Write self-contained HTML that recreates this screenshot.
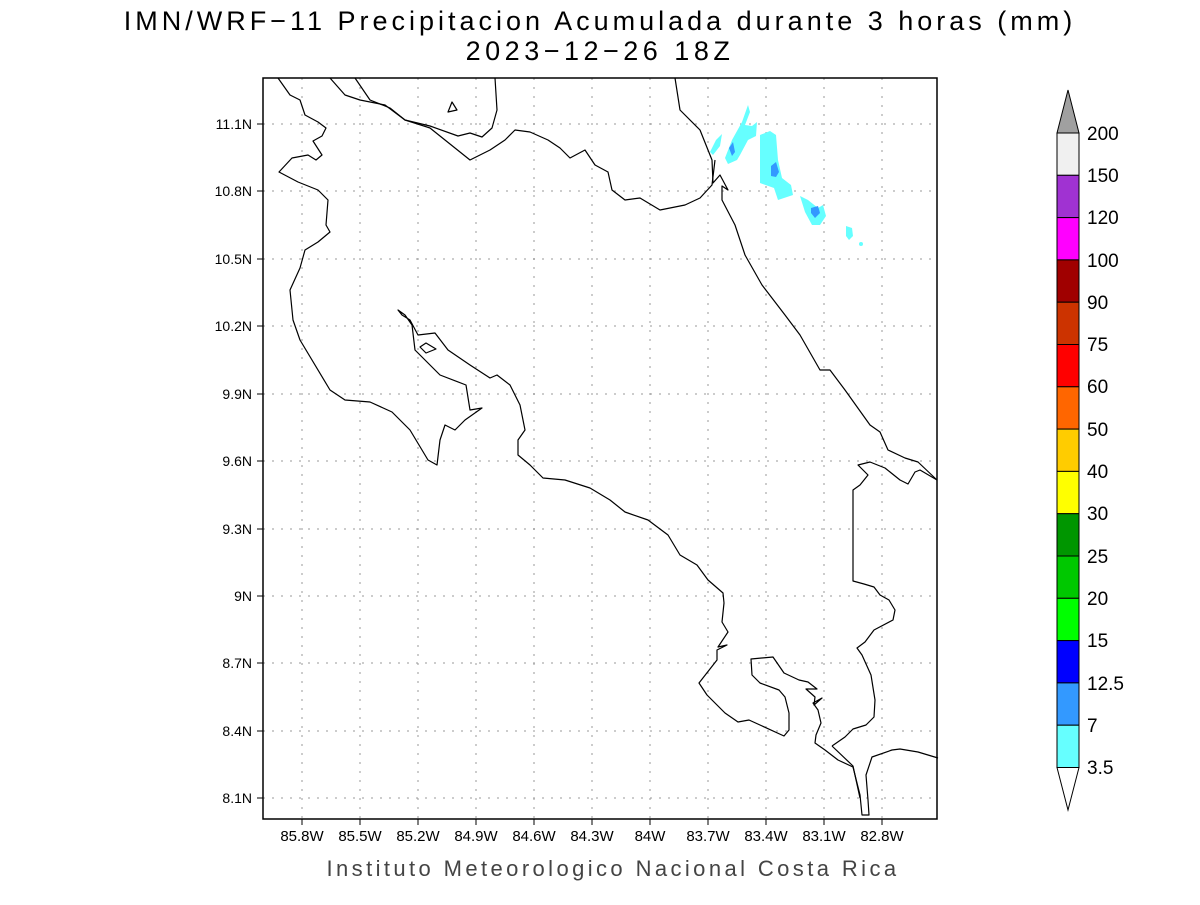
<!DOCTYPE html>
<html><head><meta charset="utf-8"><style>
body{margin:0;background:#fff;width:1200px;height:900px;overflow:hidden}
svg text{font-family:"Liberation Sans",sans-serif}
</style></head><body>
<svg width="1200" height="900" viewBox="0 0 1200 900" xmlns="http://www.w3.org/2000/svg">
<rect width="1200" height="900" fill="#fff"/>
<text x="600" y="30" font-size="27" text-anchor="middle" fill="#000" letter-spacing="4">IMN/WRF−11 Precipitacion Acumulada durante 3 horas (mm)</text>
<text x="600" y="60" font-size="27" text-anchor="middle" fill="#000" letter-spacing="4.5">2023−12−26 18Z</text>

<!-- grid -->
<g stroke="#999" stroke-width="1" stroke-dasharray="2,7">
<line x1="302" y1="78" x2="302" y2="819"/><line x1="360" y1="78" x2="360" y2="819"/><line x1="418" y1="78" x2="418" y2="819"/><line x1="476" y1="78" x2="476" y2="819"/><line x1="534" y1="78" x2="534" y2="819"/><line x1="592" y1="78" x2="592" y2="819"/><line x1="650" y1="78" x2="650" y2="819"/><line x1="708" y1="78" x2="708" y2="819"/><line x1="766" y1="78" x2="766" y2="819"/><line x1="824" y1="78" x2="824" y2="819"/><line x1="882" y1="78" x2="882" y2="819"/>
<line x1="263" y1="124" x2="937" y2="124"/><line x1="263" y1="191" x2="937" y2="191"/><line x1="263" y1="259" x2="937" y2="259"/><line x1="263" y1="326" x2="937" y2="326"/><line x1="263" y1="394" x2="937" y2="394"/><line x1="263" y1="461" x2="937" y2="461"/><line x1="263" y1="529" x2="937" y2="529"/><line x1="263" y1="596" x2="937" y2="596"/><line x1="263" y1="663" x2="937" y2="663"/><line x1="263" y1="731" x2="937" y2="731"/><line x1="263" y1="798" x2="937" y2="798"/>
</g>

<!-- precip -->
<g fill="#66ffff">
<path d="M710,152 L716,140 L722,134 L720,146 L713,155 Z"/>
<path d="M725,158 L732,140 L742,122 L748,105 L750,112 L745,125 L752,126 L757,122 L756,136 L748,140 L740,155 L737,160 L728,164 Z"/>
<path d="M760,135 L770,131 L776,135 L778,160 L782,178 L791,185 L793,195 L778,200 L774,188 L760,183 L760,160 Z"/>
<path d="M800,196 L808,200 L818,208 L823,205 L826,216 L820,225 L812,225 L805,212 Z"/>
<path d="M846,226 L852,228 L853,236 L849,240 L846,236 Z"/>
<circle cx="861" cy="244" r="2"/>
</g>
<g fill="#3399ff">
<path d="M729,148 L733,142 L735,152 L732,156 Z"/>
<path d="M771,166 L776,162 L779,172 L776,177 L771,176 Z"/>
<path d="M811,208 L818,206 L820,213 L815,218 L811,213 Z"/>
</g>

<!-- coast -->
<g fill="none" stroke="#000" stroke-width="1.2" stroke-linejoin="round">
<polyline points="278,78 290,95 300,100 305,115 318,122 326,128 322,136 313,141 322,155 316,160 308,155 292,158 279,172 298,182 318,190 328,200 326,225 330,232 318,242 305,250 300,268 290,290 293,320 300,340 330,390 345,400 370,402 392,412 410,430 428,460 437,465 440,440 445,425 455,430 465,420 482,408 470,410 466,385 440,375 425,360 415,350 412,325 405,315 398,310 402,315 410,320 418,335 435,333 448,350 470,365 490,378 497,375 510,385 520,405 525,430 518,440 518,455 530,465 543,478 565,480 590,488 610,500 625,512 648,520 668,535 680,555 697,565 708,580 723,593 724,603 722,622 728,632 718,647 727,645 717,650 717,660 699,683 707,695 725,713 738,722 749,720 784,736 789,730 789,713 785,697 779,690 760,683 752,675 751,659 773,657 784,673 799,680 808,682 817,689 806,689 815,697 814,705 822,698 813,703 818,710 821,723 816,735 815,743 825,750 838,760 853,767 860,795 862,815 869,815 868,800 866,775 872,757 892,750 900,749 918,752 938,758"/>
<polyline points="832,746 845,737 853,729 866,725 874,717 875,700 871,675 862,655 857,648 865,642 874,630 893,620 895,610 889,600 880,595 874,587 864,584 853,581 853,490 860,485 868,475 858,465 870,462 885,468 900,480 908,484 915,472 920,470 937,480"/>
<polyline points="832,746 853,766 860,798"/>
<polyline points="675,78 680,110 700,130 712,160 713,183 720,175 728,190 722,186 722,200 735,225 745,255 762,285 785,315 800,335 820,370 830,370 845,390 870,425 880,432 888,450 905,458 918,462 937,480"/>
<polyline points="330,78 345,95 360,100 385,105 405,120 430,128 470,160 490,150 505,140 515,130 530,132 548,140 560,148 570,158 585,150 595,165 608,172 612,190 625,200 640,198 660,210 685,205 700,198 712,185 715,160"/>
<polyline points="355,78 370,100 390,108 405,120 430,126 458,136 470,133 482,137 492,128 497,110 495,78"/>
<polygon points="448,112 452,102 457,110"/>
<polygon points="420,347 426,343 436,349 426,353"/>
</g>
<rect x="263" y="78" width="674" height="741" fill="none" stroke="#000" stroke-width="1.5"/>

<!-- ticks -->
<g stroke="#000" stroke-width="1">
<line x1="257" y1="124" x2="263" y2="124"/><line x1="257" y1="191" x2="263" y2="191"/><line x1="257" y1="259" x2="263" y2="259"/><line x1="257" y1="326" x2="263" y2="326"/><line x1="257" y1="394" x2="263" y2="394"/><line x1="257" y1="461" x2="263" y2="461"/><line x1="257" y1="529" x2="263" y2="529"/><line x1="257" y1="596" x2="263" y2="596"/><line x1="257" y1="663" x2="263" y2="663"/><line x1="257" y1="731" x2="263" y2="731"/><line x1="257" y1="798" x2="263" y2="798"/>
<line x1="302" y1="819" x2="302" y2="825"/><line x1="360" y1="819" x2="360" y2="825"/><line x1="418" y1="819" x2="418" y2="825"/><line x1="476" y1="819" x2="476" y2="825"/><line x1="534" y1="819" x2="534" y2="825"/><line x1="592" y1="819" x2="592" y2="825"/><line x1="650" y1="819" x2="650" y2="825"/><line x1="708" y1="819" x2="708" y2="825"/><line x1="766" y1="819" x2="766" y2="825"/><line x1="824" y1="819" x2="824" y2="825"/><line x1="882" y1="819" x2="882" y2="825"/>
</g>
<g font-size="14" text-anchor="end" fill="#000">
<text x="252" y="129">11.1N</text><text x="252" y="196">10.8N</text><text x="252" y="264">10.5N</text><text x="252" y="331">10.2N</text><text x="252" y="399">9.9N</text><text x="252" y="466">9.6N</text><text x="252" y="534">9.3N</text><text x="252" y="601">9N</text><text x="252" y="668">8.7N</text><text x="252" y="736">8.4N</text><text x="252" y="803">8.1N</text>
</g>
<g font-size="15" text-anchor="middle" fill="#000">
<text x="302" y="841">85.8W</text><text x="360" y="841">85.5W</text><text x="418" y="841">85.2W</text><text x="476" y="841">84.9W</text><text x="534" y="841">84.6W</text><text x="592" y="841">84.3W</text><text x="650" y="841">84W</text><text x="708" y="841">83.7W</text><text x="766" y="841">83.4W</text><text x="824" y="841">83.1W</text><text x="882" y="841">82.8W</text>
</g>
<text x="613" y="876" font-size="22" text-anchor="middle" fill="#444" letter-spacing="3.4">Instituto Meteorologico Nacional Costa Rica</text>

<!-- colorbar -->
<g stroke="#000" stroke-width="1">
<polygon points="1057,133 1068,90 1079,133" fill="#a0a0a0"/>
<rect x="1057" y="133" width="22" height="42.3" fill="#f0f0f0"/>
<rect x="1057" y="175.3" width="22" height="42.3" fill="#a032d2"/>
<rect x="1057" y="217.6" width="22" height="42.3" fill="#ff00ff"/>
<rect x="1057" y="259.9" width="22" height="42.3" fill="#a00000"/>
<rect x="1057" y="302.2" width="22" height="42.3" fill="#cc3300"/>
<rect x="1057" y="344.5" width="22" height="42.3" fill="#ff0000"/>
<rect x="1057" y="386.8" width="22" height="42.3" fill="#ff6600"/>
<rect x="1057" y="429.1" width="22" height="42.3" fill="#ffcc00"/>
<rect x="1057" y="471.4" width="22" height="42.3" fill="#ffff00"/>
<rect x="1057" y="513.7" width="22" height="42.3" fill="#009600"/>
<rect x="1057" y="556" width="22" height="42.3" fill="#00c800"/>
<rect x="1057" y="598.3" width="22" height="42.3" fill="#00ff00"/>
<rect x="1057" y="640.6" width="22" height="42.3" fill="#0000ff"/>
<rect x="1057" y="682.9" width="22" height="42.3" fill="#3399ff"/>
<rect x="1057" y="725.2" width="22" height="42.3" fill="#66ffff"/>
<polygon points="1057,767.5 1068,810 1079,767.5" fill="#fff"/>
</g>
<g font-size="19" fill="#000">
<text x="1087" y="140">200</text><text x="1087" y="182">150</text><text x="1087" y="224">120</text><text x="1087" y="267">100</text><text x="1087" y="309">90</text><text x="1087" y="351">75</text><text x="1087" y="393">60</text><text x="1087" y="436">50</text><text x="1087" y="478">40</text><text x="1087" y="520">30</text><text x="1087" y="563">25</text><text x="1087" y="605">20</text><text x="1087" y="647">15</text><text x="1087" y="690">12.5</text><text x="1087" y="732">7</text><text x="1087" y="774">3.5</text>
</g>
</svg>
</body></html>
